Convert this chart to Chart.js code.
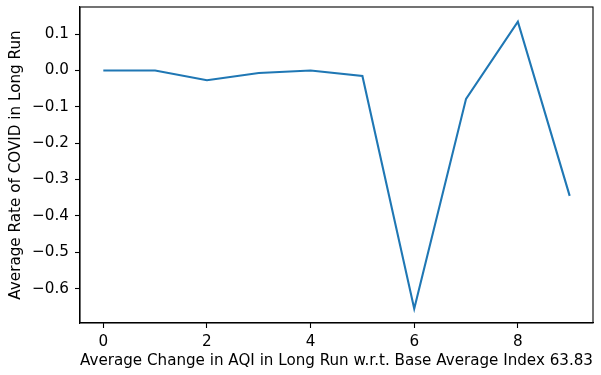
<!DOCTYPE html>
<html>
<head>
<meta charset="utf-8">
<script src="https://cdn.jsdelivr.net/npm/chart.js@4/dist/chart.umd.min.js"></script>
<style>
  html, body { margin: 0; padding: 0; background: #fff; }
  #wrap { width: 601px; height: 375px; position: relative; }
</style>
</head>
<body>
<div id="wrap"><canvas id="c" width="601" height="375"></canvas></div>
<script>
// AQI change steps and the long-run average COVID rate at each step
const aqiChange = [0, 1, 2, 3, 4, 5, 6, 7, 8, 9];
const covidRate = [0.0, 0.0, -0.027, -0.007, 0.0, -0.015, -0.655, -0.078, 0.134, -0.345];
const xTicks = [0, 2, 4, 6, 8];
const yTicks = [0.1, 0.0, -0.1, -0.2, -0.3, -0.4, -0.5, -0.6];

const FONT = { family: 'DejaVu Sans', size: 15.2 };
const minus = s => String(s).replace('-', '\u2212');

// full rectangular frame around the plotting area
const frame = {
  id: 'frame',
  afterDraw(chart) {
    const { ctx, chartArea: a } = chart;
    ctx.save();
    ctx.strokeStyle = '#000';
    ctx.lineWidth = 1.1;
    ctx.strokeRect(a.left, a.top, a.right - a.left, a.bottom - a.top);
    ctx.restore();
  }
};

new Chart(document.getElementById('c'), {
  type: 'line',
  data: {
    datasets: [{
      data: aqiChange.map((x, i) => ({ x, y: covidRate[i] })),
      borderColor: '#1f77b4',
      borderWidth: 2.1,
      pointRadius: 0,
      tension: 0,
      fill: false
    }]
  },
  options: {
    responsive: false,
    animation: false,
    layout: { padding: { left: 0, right: 8, top: 7, bottom: 0 } },
    plugins: { legend: { display: false }, tooltip: { enabled: false } },
    scales: {
      x: {
        type: 'linear',
        min: -0.45,
        max: 9.45,
        afterBuildTicks: s => { s.ticks = xTicks.map(v => ({ value: v })); },
        afterFit: s => { s.height = 52; s.paddingLeft = 0; s.paddingRight = 0; },
        grid: { display: true, drawOnChartArea: false, drawTicks: true, tickLength: 5, tickColor: '#000', tickWidth: 1.1 },
        border: { display: true, color: '#000', width: 1.1 },
        ticks: { font: FONT, color: '#000', padding: 5, maxRotation: 0, callback: v => minus(v) },
        title: {
          display: true,
          text: 'Average Change in AQI in Long Run w.r.t. Base Average Index 63.83',
          font: FONT, color: '#000',
          padding: { top: 0, bottom: 5 }
        }
      },
      y: {
        type: 'linear',
        min: -0.6945,
        max: 0.1745,
        afterBuildTicks: s => { s.ticks = yTicks.map(v => ({ value: v })); },
        afterFit: s => { s.width = 80; s.paddingTop = 0; s.paddingBottom = 0; },
        grid: { display: true, drawOnChartArea: false, drawTicks: true, tickLength: 5, tickColor: '#000', tickWidth: 1.1 },
        border: { display: true, color: '#000', width: 1.1 },
        ticks: { font: FONT, color: '#000', padding: 6, callback: v => minus(Number(v).toFixed(1)) },
        title: {
          display: true,
          text: 'Average Rate of COVID in Long Run',
          font: FONT, color: '#000',
          padding: { top: 7, bottom: 0 }
        }
      }
    }
  },
  plugins: [frame]
});
</script>
</body>
</html>
